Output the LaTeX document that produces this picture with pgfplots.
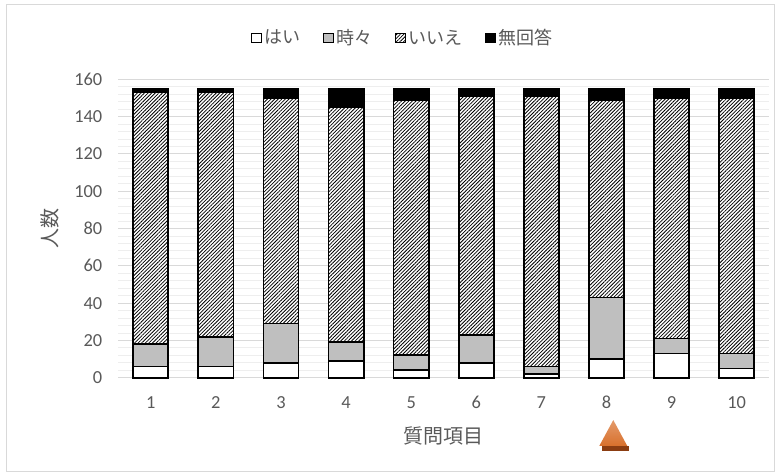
\documentclass[border=0pt]{standalone}
\usepackage{pgfplots}
\pgfplotsset{compat=1.18}
\usepackage{pgfplotstable}
\usepackage{fontspec}
\setmainfont{Carlito}
\newfontfamily\jp{Noto Sans CJK JP}
\usetikzlibrary{patterns.meta}

\definecolor{txt}{HTML}{595959}
\definecolor{gridc}{HTML}{D9D9D9}
\definecolor{minorc}{HTML}{EEEEEE}
\definecolor{barg}{HTML}{BFBFBF}
\definecolor{framec}{HTML}{D9D9D9}
\definecolor{tri}{HTML}{D8702C}
\definecolor{tridark}{HTML}{8B3D12}

% 回答数（質問項目ごと、合計155人）
\pgfplotstableread{
item yes sometimes no noanswer
1  6  12 135  2
2  6  16 131  2
3  8  21 121  5
4  9  10 126 10
5  4   8 137  6
6  8  15 128  4
7  2   4 145  4
8 10  33 106  6
9 13   8 129  5
10 5   8 137  5
}\answers

\begin{document}
\begin{tikzpicture}[x=0.75pt,y=0.75pt]
\useasboundingbox (0,0) rectangle (780,474);
\draw[framec,line width=0.75pt] (6,3) rectangle (774,469);
\begin{axis}[
  at={(88.65pt,72.225pt)}, anchor=south west,
  scale only axis,
  width=488.3pt, height=223.8pt,
  ybar stacked,
  bar width=26.4pt,
  xmin=0.5, xmax=10.5,
  ymin=0, ymax=160,
  xtick=data,
  ytick={0,20,...,160},
  minor y tick num=4,
  ymajorgrids, yminorgrids,
  major grid style={gridc,line width=0.75pt},
  minor grid style={minorc,line width=0.6pt},
  axis line style={draw=none},
  tick style={draw=none},
  major tick length=0pt, minor tick length=0pt,
  tick label style={font=\fontsize{13.8}{15}\selectfont, text=txt},
  /pgf/number format/assume math mode=true,
  xticklabel shift=10.5pt,
  yticklabel shift=8.4pt,
  xlabel={\jp 質問項目},
  ylabel={\jp 人数},
  xlabel style={at={(axis description cs:0.5,-0.1954)}, anchor=center,
    font=\fontsize{15}{17}\selectfont, text=txt},
  ylabel style={at={(axis description cs:-0.1052,0.5)}, anchor=center,
    font=\fontsize{15}{17}\selectfont, text=txt},
  legend style={at={(axis description cs:0.4375,1.1384)}, anchor=center,
    draw=none, fill=none, font=\jp\fontsize{13.5}{15}\selectfont, text=txt,
    legend columns=4,
    /tikz/every even column/.append style={column sep=15pt}},
  legend image code/.code={\draw[#1,line width=0.8pt] (0pt,-3.6pt) rectangle (7.2pt,3.6pt);},
  every axis plot/.append style={draw=black, line width=1.3pt},
  clip=false,
]
\addplot[fill=white] table[x=item,y=yes] {\answers};
\addplot[fill=barg] table[x=item,y=sometimes] {\answers};
\addplot[fill=white, postaction={pattern={Lines[angle=45,distance=1.9pt,line width=0.6pt]}}] table[x=item,y=no] {\answers};
\addplot[fill=black] table[x=item,y=noanswer] {\answers};
\legend{はい,時々,いいえ,無回答}

% 項目8を指す三角マーク
\fill[tridark] (axis cs:7.926,-36.4) -- (axis cs:8.350,-36.4)
  -- (axis cs:8.350,-39.2) -- (axis cs:7.926,-39.2) -- cycle;
\shade[top color=tri!70!white, bottom color=tri] (axis cs:8.104,-22.7)
  -- (axis cs:8.319,-36.6) -- (axis cs:7.889,-36.6) -- cycle;
\end{axis}
\end{tikzpicture}
\end{document}
